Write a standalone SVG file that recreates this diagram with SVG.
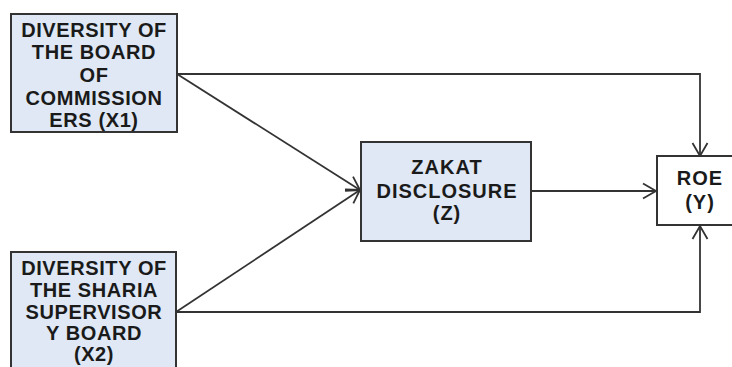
<svg xmlns="http://www.w3.org/2000/svg" width="732" height="367" viewBox="0 0 732 367">
<defs>
<style>
.box{fill:#dfe8f4;stroke:#333;stroke-width:2}
.wbox{fill:#fff;stroke:#333;stroke-width:2}
.t{font-family:"Liberation Sans",Arial,sans-serif;font-weight:bold;font-size:20px;fill:#1a1a1a;text-anchor:middle;letter-spacing:0.6px}
.tz{font-family:"Liberation Sans",Arial,sans-serif;font-weight:bold;font-size:20px;fill:#1a1a1a;text-anchor:middle;letter-spacing:1px}
.c{fill:none;stroke:#333;stroke-width:1.8}
</style>
<marker id="arr" markerUnits="userSpaceOnUse" viewBox="-14 -9 16 18" markerWidth="16" markerHeight="18" refX="0" refY="0" orient="auto">
<path d="M-13,-7.5 L0,0 L-13,7.5" fill="none" stroke="#333" stroke-width="1.8"/>
</marker>
</defs>
<rect width="732" height="367" fill="#fff"/>
<g id="connectors">
<path class="c" d="M177,74 L700,74 L700,156" marker-end="url(#arr)"/>
<path class="c" d="M177,74 L360,190" marker-end="url(#arr)"/>
<path class="c" d="M176,312 L360,190" marker-end="url(#arr)"/>
<path class="c" d="M531,191 L656,191" marker-end="url(#arr)"/>
<path class="c" d="M176,312 L700,312 L700,226" marker-end="url(#arr)"/>
</g>
<g id="x1">
<rect class="box" x="11" y="14" width="166" height="118"/>
<text class="t" x="94" y="36.5">DIVERSITY OF</text>
<text class="t" x="94" y="59">THE BOARD</text>
<text class="t" x="94" y="82">OF</text>
<text class="t" x="94" y="105">COMMISSION</text>
<text class="t" x="94" y="127">ERS (X1)</text>
</g>
<g id="x2">
<rect class="box" x="11" y="252" width="165" height="125"/>
<text class="t" x="94" y="275">DIVERSITY OF</text>
<text class="t" x="94" y="297">THE SHARIA</text>
<text class="t" x="94" y="318.5">SUPERVISOR</text>
<text class="t" x="94" y="340">Y BOARD</text>
<text class="t" x="94" y="361">(X2)</text>
</g>
<g id="z">
<rect class="box" x="361" y="142" width="170" height="99"/>
<text class="tz" x="447" y="173.5">ZAKAT</text>
<text class="tz" x="447" y="197.5">DISCLOSURE</text>
<text class="tz" x="447" y="220">(Z)</text>
</g>
<g id="y">
<rect class="wbox" x="657" y="156" width="84" height="69"/>
<text class="tz" x="700" y="185">ROE</text>
<text class="tz" x="700" y="209">(Y)</text>
</g>
</svg>
